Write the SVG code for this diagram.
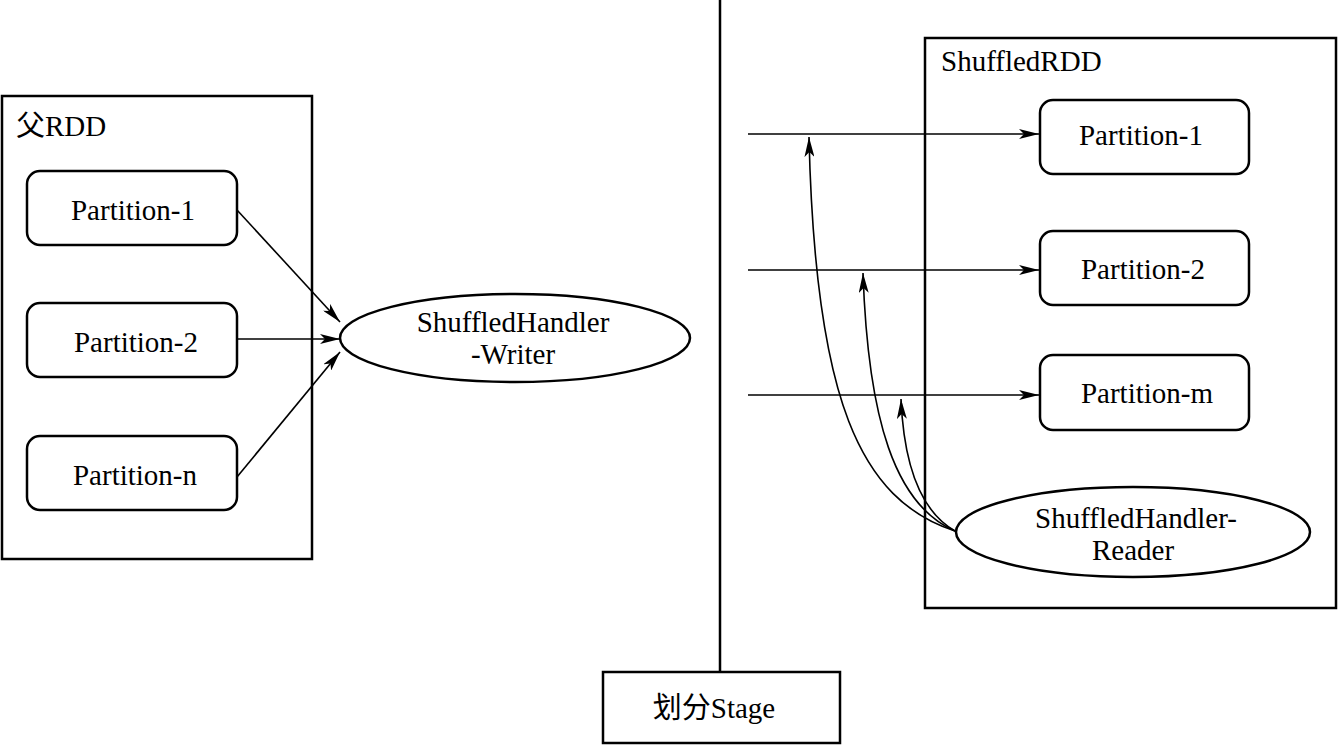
<svg xmlns="http://www.w3.org/2000/svg" width="1338" height="745" viewBox="0 0 1338 745">
<defs>
<marker id="ah" viewBox="0 0 20 10" refX="20" refY="5" markerWidth="20" markerHeight="10" markerUnits="userSpaceOnUse" orient="auto">
<path d="M0,0 L20,5 L0,10 L5,5 Z" fill="#000"/>
</marker>
</defs>
<style>
.box{fill:#fff;stroke:#000;stroke-width:2.5}
.part{fill:#fff;stroke:#000;stroke-width:2.5}
.t{font-family:'Liberation Serif','Times New Roman','DejaVu Serif','Noto Sans CJK SC',serif;font-size:29px;fill:#000;text-anchor:middle}
.tl{font-family:'Liberation Serif','Times New Roman','DejaVu Serif','Noto Sans CJK SC',serif;font-size:29px;fill:#000}
.c{fill:none;stroke:#000;stroke-width:1.6;marker-end:url(#ah)}
.ln{fill:none;stroke:#000;stroke-width:2.5}
</style>
<rect width="1338" height="745" fill="#fff"/>
<g id="parentRDD">
<rect class="box" x="2" y="96" width="310" height="463"/>
<text class="tl" x="16" y="136">父RDD</text>
</g>
<g id="shuffledRDD">
<rect class="box" x="925" y="38" width="411" height="570"/>
<text class="tl" x="941" y="71">ShuffledRDD</text>
</g>
<g id="stageline">
<line class="ln" x1="720" y1="0" x2="720" y2="672"/>
</g>
<g id="stage">
<rect class="box" x="603" y="672" width="237" height="71"/>
<text class="t" x="714" y="718">划分Stage</text>
</g>
<g id="lp1">
<rect class="part" x="27" y="171" width="210" height="74" rx="13"/>
<text class="t" x="133" y="220">Partition-1</text>
</g>
<g id="lp2">
<rect class="part" x="27" y="303" width="210" height="74" rx="13"/>
<text class="t" x="136" y="352">Partition-2</text>
</g>
<g id="lpn">
<rect class="part" x="27" y="436" width="210" height="74" rx="13"/>
<text class="t" x="135" y="485">Partition-n</text>
</g>
<g id="writer">
<ellipse class="part" cx="515" cy="338" rx="175" ry="44"/>
<text class="t" x="513" y="332">ShuffledHandler</text>
<text class="t" x="513" y="364">-Writer</text>
</g>
<g id="rp1">
<rect class="part" x="1040" y="100" width="209" height="74" rx="13"/>
<text class="t" x="1141" y="145">Partition-1</text>
</g>
<g id="rp2">
<rect class="part" x="1040" y="231" width="209" height="74" rx="13"/>
<text class="t" x="1143" y="279">Partition-2</text>
</g>
<g id="rpm">
<rect class="part" x="1040" y="355" width="209" height="75" rx="13"/>
<text class="t" x="1147" y="403">Partition-m</text>
</g>
<g id="reader">
<ellipse class="part" cx="1133" cy="532" rx="177" ry="45"/>
<text class="t" x="1136" y="528">ShuffledHandler-</text>
<text class="t" x="1133" y="560">Reader</text>
</g>
<g id="connectors">
<line class="c" x1="237" y1="210" x2="340" y2="322"/>
<line class="c" x1="237" y1="339" x2="340" y2="339"/>
<line class="c" x1="237" y1="477" x2="340" y2="352"/>
<line class="c" x1="748" y1="134" x2="1039" y2="134"/>
<line class="c" x1="748" y1="270" x2="1039" y2="270"/>
<line class="c" x1="748" y1="395" x2="1039" y2="395"/>
<path class="c" d="M955,531 C860,500 815,400 809,137"/>
<path class="c" d="M955,531 C895,505 868,420 863,273"/>
<path class="c" d="M955,531 C922,512 904,470 901,399"/>
</g>
</svg>
